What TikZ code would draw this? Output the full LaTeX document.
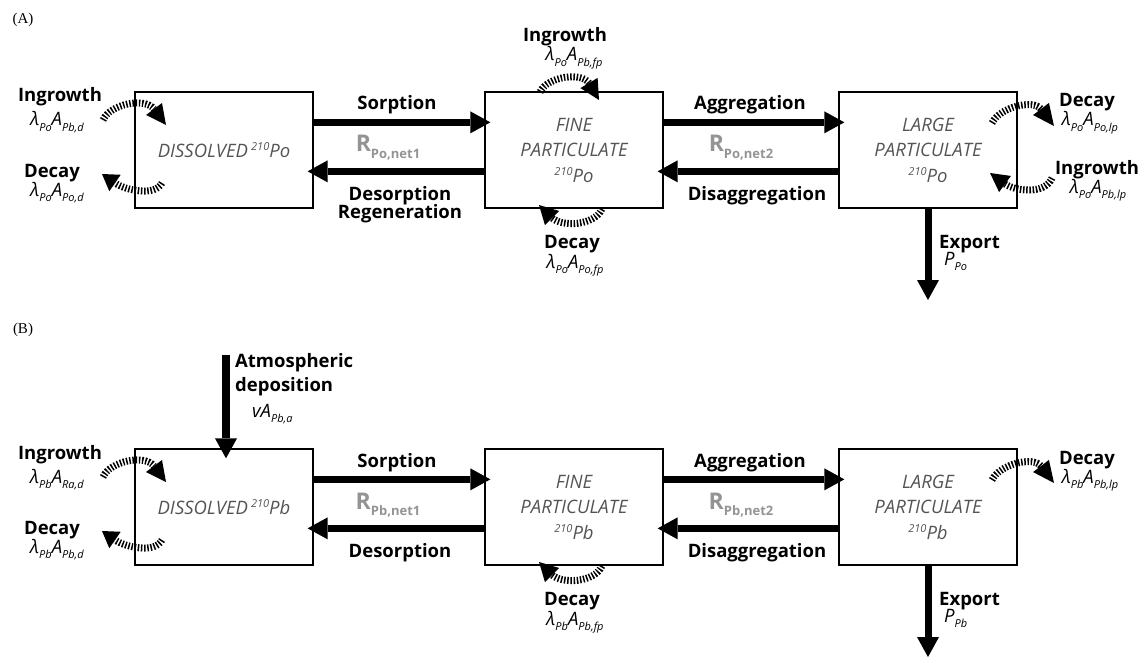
\documentclass[tikz,border=0pt]{standalone}
\usepackage{fontspec}
\setmainfont{Liberation Serif}
\newfontfamily\osans{Open Sans}
\usetikzlibrary{arrows.meta,calc}
\definecolor{boxgray}{gray}{0.33}
\definecolor{rgray}{gray}{0.58}
\newcommand{\mylblfont}{\osans\bfseries\fontsize{18.5}{20}\selectfont}
\newcommand{\myboxfont}{\osans\itshape\fontsize{18.5}{25.5}\selectfont}
\newcommand{\mysub}[1]{\raisebox{-5.5pt}{\fontsize{11}{12}\selectfont #1}}
\newcommand{\myfrm}[4]{{\osans\itshape\fontsize{18.5}{20}\selectfont #1\mysub{#2}#3\mysub{#4}}}
\newcommand{\myR}[1]{{\osans\bfseries\color{rgray}\fontsize{23}{26}\selectfont R\raisebox{-6pt}{\fontsize{13}{14}\selectfont #1}}}
\newcommand{\mysup}[1]{\raisebox{7pt}{\fontsize{11}{12}\selectfont #1}}
\newcommand{\myhead}[2]{\fill (#2) -- ($(#1)!10pt!90:(#2)$) -- ($(#1)!10pt!-90:(#2)$) -- cycle;}
\begin{document}
\begin{tikzpicture}[x=1pt,y=-1pt,
  box/.style={draw, line width=1.3pt, minimum width=178pt, minimum height=116pt, inner sep=0pt, align=center, text=boxgray, font=\myboxfont},
  bigarrow/.style={line width=7pt, -{Triangle[length=20pt,width=22pt,line width=0pt]}, shorten >=-6pt},
  curly/.style={line width=7pt, dash pattern=on 1.5pt off 1.7pt},
  lbl/.style={inner sep=0pt, anchor=base, font=\mylblfont},
  lblw/.style={inner sep=0pt, anchor=base west, font=\mylblfont},
  frm/.style={inner sep=0pt, anchor=base},
  frmw/.style={inner sep=0pt, anchor=base west},
  panel/.style={inner sep=0pt, anchor=base, font=\fontsize{15}{16}\selectfont}
]
\useasboundingbox (0,0) rectangle (1143,658);

% ================= Panel A =================
\node[panel] (labA) at (23,24) {(A)};
\node[box] (dA) at (224,150) {DISSOLVED\,\mysup{210}Po};
\node[box] (fA) at (574,150) {FINE\\PARTICULATE\\\mysup{210}Po};
\node[box] (lA) at (928,150) {LARGE\\PARTICULATE\\\mysup{210}Po};

\draw[bigarrow] ([yshift=-31pt]dA.north east) -- ([yshift=-31pt]fA.north west);
\draw[bigarrow] ([yshift=-80pt]fA.north west) -- ([yshift=-80pt]dA.north east);
\draw[bigarrow] ([yshift=-31pt]fA.north east) -- ([yshift=-31pt]lA.north west);
\draw[bigarrow] ([yshift=-80pt]lA.north west) -- ([yshift=-80pt]fA.north east);
\coordinate (expA) at (928,300);
\draw[bigarrow, shorten >=0pt] (lA.south) -- (expA);

\node[lbl] (sorA) at (397,110) {Sorption};
\node[frm] (rA1) at (388,152) {\myR{Po,net1}};
\node[lbl] (desA) at (400,200) {Desorption};
\node[lbl] (regA) at (400,218) {Regeneration};
\node[lbl] (agA) at (750,110) {Aggregation};
\node[frm] (rA2) at (741,152) {\myR{Po,net2}};
\node[lbl] (disA) at (757,200) {Disaggregation};
\node[lblw] (exA) at (939,248) {Export};
\node[frmw] (exAf) at (944,265) {\myfrm{P}{Po}{}{}};

% curly arrows A
\coordinate (a1s) at (103,120); \coordinate (a1b) at (154,109); \coordinate (a1t) at (166,125);
\draw[curly] (a1s) .. controls (110,104) and (145,97) .. (a1b); \myhead{a1b}{a1t}
\coordinate (a2s) at (162,183); \coordinate (a2b) at (115,183); \coordinate (a2t) at (102,174);
\draw[curly] (a2s) .. controls (155,197) and (125,190) .. (a2b); \myhead{a2b}{a2t}
\coordinate (a3s) at (540,92); \coordinate (a3b) at (589,83); \coordinate (a3t) at (599,100);
\draw[curly] (a3s) .. controls (548,76) and (582,72) .. (a3b); \myhead{a3b}{a3t}
\coordinate (a4s) at (602,209); \coordinate (a4b) at (552,218); \coordinate (a4t) at (539,205);
\draw[curly] (a4s) .. controls (594,226) and (562,227) .. (a4b); \myhead{a4b}{a4t}
\coordinate (a5s) at (992,123); \coordinate (a5b) at (1041,109); \coordinate (a5t) at (1054,126);
\draw[curly] (a5s) .. controls (1000,107) and (1033,99) .. (a5b); \myhead{a5b}{a5t}
\coordinate (a6s) at (1052,178); \coordinate (a6b) at (1005,184); \coordinate (a6t) at (990,173);
\draw[curly] (a6s) .. controls (1045,195) and (1015,191) .. (a6b); \myhead{a6b}{a6t}

\node[lbl] (inA) at (60,102) {Ingrowth};
\node[frm] (inAf) at (57,126) {\myfrm{λ}{Po}{A}{Pb,d}};
\node[lbl] (dcA) at (52,177) {Decay};
\node[frm] (dcAf) at (57,196) {\myfrm{λ}{Po}{A}{Po,d}};
\node[lbl] (inF) at (565,42) {Ingrowth};
\node[frm] (inFf) at (574,61) {\myfrm{λ}{Po}{A}{Pb,fp}};
\node[lbl] (dcF) at (572,248) {Decay};
\node[frm] (dcFf) at (575,268) {\myfrm{λ}{Po}{A}{Po,fp}};
\node[lbl] (dcL) at (1087,107) {Decay};
\node[frm] (dcLf) at (1090,126) {\myfrm{λ}{Po}{A}{Po,lp}};
\node[lbl] (inL) at (1097,174) {Ingrowth};
\node[frm] (inLf) at (1098,193) {\myfrm{λ}{Po}{A}{Pb,lp}};

% ================= Panel B =================
\node[panel] (labB) at (23,333) {(B)};
\begin{scope}[shift={(0,357)}]
\node[box] (dB) at (224,150) {DISSOLVED\,\mysup{210}Pb};
\node[box] (fB) at (574,150) {FINE\\PARTICULATE\\\mysup{210}Pb};
\node[box] (lB) at (928,150) {LARGE\\PARTICULATE\\\mysup{210}Pb};

\draw[bigarrow] ([yshift=-31pt]dB.north east) -- ([yshift=-31pt]fB.north west);
\draw[bigarrow] ([yshift=-80pt]fB.north west) -- ([yshift=-80pt]dB.north east);
\draw[bigarrow] ([yshift=-31pt]fB.north east) -- ([yshift=-31pt]lB.north west);
\draw[bigarrow] ([yshift=-80pt]lB.north west) -- ([yshift=-80pt]fB.north east);
\coordinate (expB) at (928,300);
\draw[bigarrow, shorten >=0pt] (lB.south) -- (expB);
\coordinate (atm) at (226,-2);
\draw[bigarrow, line width=8pt, shorten >=-10pt] (atm) -- (dB.north -| atm);

\node[lblw] (atB1) at (235,10) {Atmospheric};
\node[lblw] (atB2) at (235,34) {deposition};
\node[frmw] (atBf) at (252,60) {\myfrm{v}{}{A}{Pb,a}};

\node[lbl] (sorB) at (397,110) {Sorption};
\node[frm] (rB1) at (388,152) {\myR{Pb,net1}};
\node[lbl] (desB) at (400,200) {Desorption};
\node[lbl] (agB) at (750,110) {Aggregation};
\node[frm] (rB2) at (741,152) {\myR{Pb,net2}};
\node[lbl] (disB) at (757,200) {Disaggregation};
\node[lblw] (exB) at (939,248) {Export};
\node[frmw] (exBf) at (944,265) {\myfrm{P}{Pb}{}{}};

\coordinate (b1s) at (103,120); \coordinate (b1b) at (154,109); \coordinate (b1t) at (166,125);
\draw[curly] (b1s) .. controls (110,104) and (145,97) .. (b1b); \myhead{b1b}{b1t}
\coordinate (b2s) at (162,183); \coordinate (b2b) at (115,183); \coordinate (b2t) at (102,174);
\draw[curly] (b2s) .. controls (155,197) and (125,190) .. (b2b); \myhead{b2b}{b2t}
\coordinate (b4s) at (602,209); \coordinate (b4b) at (552,218); \coordinate (b4t) at (539,205);
\draw[curly] (b4s) .. controls (594,226) and (562,227) .. (b4b); \myhead{b4b}{b4t}
\coordinate (b5s) at (992,123); \coordinate (b5b) at (1041,109); \coordinate (b5t) at (1054,126);
\draw[curly] (b5s) .. controls (1000,107) and (1033,99) .. (b5b); \myhead{b5b}{b5t}

\node[lbl] (inBl) at (60,102) {Ingrowth};
\node[frm] (inBf) at (57,126) {\myfrm{λ}{Pb}{A}{Ra,d}};
\node[lbl] (dcBl) at (52,177) {Decay};
\node[frm] (dcBf) at (57,196) {\myfrm{λ}{Pb}{A}{Pb,d}};
\node[lbl] (dcFB) at (572,248) {Decay};
\node[frm] (dcFBf) at (575,268) {\myfrm{λ}{Pb}{A}{Pb,fp}};
\node[lbl] (dcLB) at (1087,107) {Decay};
\node[frm] (dcLBf) at (1090,126) {\myfrm{λ}{Pb}{A}{Pb,lp}};
\end{scope}
\end{tikzpicture}
\end{document}
